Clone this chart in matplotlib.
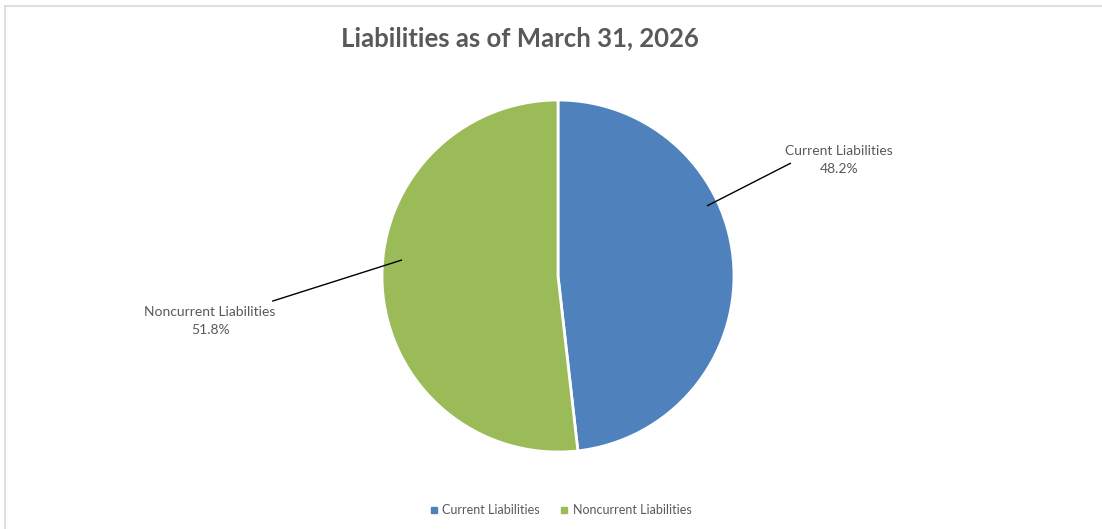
import matplotlib
matplotlib.use("Agg")
import matplotlib.pyplot as plt
from matplotlib.lines import Line2D

# Data
labels = ["Current Liabilities", "Noncurrent Liabilities"]
shares = [48.2, 51.8]
colors = ["#4F81BD", "#9BBB59"]
title = "Liabilities as of March 31, 2026"

plt.rcParams["font.family"] = ["Lato", "DejaVu Sans"]
text_color = "#595959"

W, H = 1102, 529
fig = plt.figure(figsize=(W / 100, H / 100), dpi=100)

# chart border (left / top visible, rest cropped in reference)
fig.add_artist(Line2D([5 / W, 5 / W], [0, 1 - 6 / H], color="#D9D9D9", lw=1.2))
fig.add_artist(Line2D([5 / W, 1], [1 - 6 / H, 1 - 6 / H], color="#D9D9D9", lw=1.2))

# pie axes: center (558, 276) px, radius 176 px
cx, cy, r = 558, 276, 176
ax = fig.add_axes([(cx - r) / W, (H - cy - r) / H, 2 * r / W, 2 * r / H])
ax.pie(shares, colors=colors, startangle=90, counterclock=False, radius=1,
       wedgeprops=dict(edgecolor="white", linewidth=2))
ax.set_xlim(-1, 1)
ax.set_ylim(-1, 1)
ax.set_aspect("equal")
ax.axis("off")

# data labels with leader lines
label_pos = [(1.597, 0.66), (-1.977, -0.255)]
leader = [((0.85, 0.40), (1.32, 0.64)), ((-0.89, 0.09), (-1.62, -0.142))]
for lab, val, (tx, ty), (p0, p1) in zip(labels, shares, label_pos, leader):
    ax.plot([p0[0], p1[0]], [p0[1], p1[1]], color="black", lw=1, clip_on=False)
    ax.text(tx, ty, f"{lab}\n{val:.1f}%", ha="center", va="center",
            fontsize=10, color=text_color, linespacing=1.65, clip_on=False)

fig.text(520 / W, 1 - 38 / H, title, ha="center", va="center",
         fontsize=18.5, fontweight="bold", color=text_color)

handles = [Line2D([], [], marker="s", linestyle="none", markersize=4.5,
                  markerfacecolor=c, markeredgecolor=c) for c in colors]
fig.legend(handles, labels, loc="center", bbox_to_anchor=(560 / W, 1 - 510 / H),
           ncol=2, frameon=False, fontsize=9, handletextpad=0.3,
           columnspacing=1.5, labelcolor=text_color, handlelength=0.8)

fig.savefig("out.png", dpi=100)
